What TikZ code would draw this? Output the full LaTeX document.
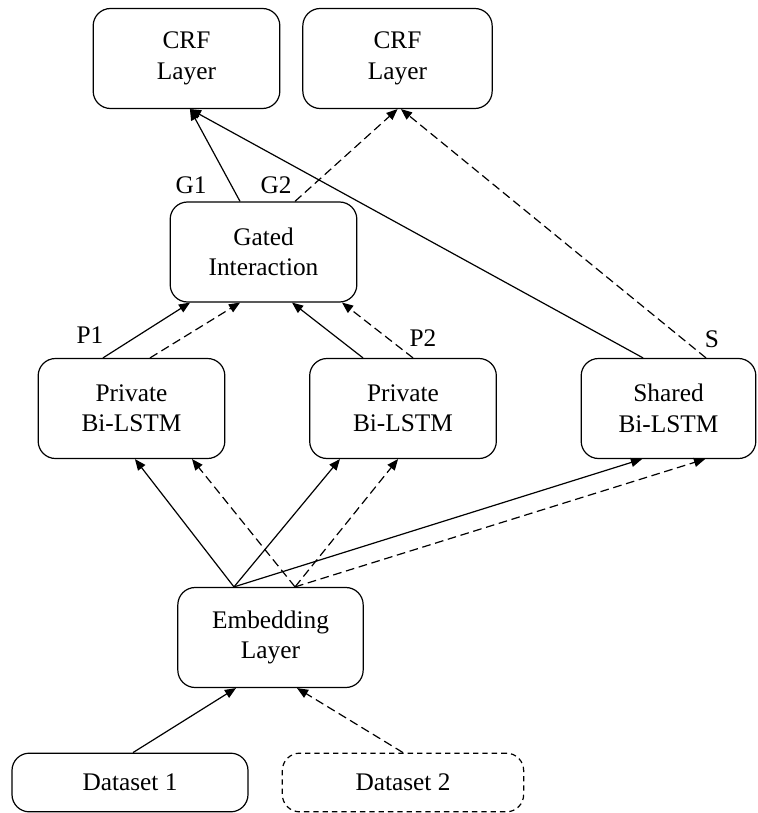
\documentclass[tikz,border=0pt]{standalone}
\usepackage{fontspec}
\setmainfont{Liberation Serif}
\usepackage{tikz}
\usetikzlibrary{arrows}

\tikzset{
  blockbox/.style={draw, line width=0.9pt, rounded corners=13pt, align=center, inner sep=0pt,
    minimum height=75pt, font=\fontsize{19}{22.8}\selectfont},
  databox/.style={blockbox, minimum height=44pt},
  flowa/.style={->, line width=0.9pt},
  flowb/.style={->, line width=0.9pt, dash pattern=on 6.5pt off 3.5pt},
  taglabel/.style={font=\fontsize{19}{22.8}\selectfont, inner sep=0pt}
}

\begin{document}
\begin{tikzpicture}[line cap=butt,line join=round,>=triangle 45,x=0.75pt,y=-0.75pt]
\useasboundingbox (0,0) rectangle (757,813);
% upper layers
\node[blockbox, minimum width=140pt] (crfA) at (186.5,58.5) {CRF\\Layer};
\node[blockbox, minimum width=142pt] (crfB) at (397.5,58.5) {CRF\\Layer};
\node[blockbox, minimum width=140pt] (gate) at (263.5,252) {Gated\\Interaction};
% encoders
\node[blockbox, minimum width=140pt] (privA) at (131.5,408.5) {Private\\Bi-LSTM};
\node[blockbox, minimum width=140pt] (privB) at (403,408.5) {Private\\Bi-LSTM};
\node[blockbox, minimum width=131pt] (shared) at (668.5,408.5) {Shared\\Bi-LSTM};
\node[blockbox, minimum width=139pt] (embed) at (270.5,637.5) {Embedding\\Layer};
% inputs
\node[databox, minimum width=177pt] (dataA) at (130,782.5) {Dataset 1};
\node[databox, minimum width=181pt, dash pattern=on 4pt off 3pt] (dataB) at (403,782.5) {Dataset 2};
% labels
\node[taglabel] (tagGa) at (191,185) {G1};
\node[taglabel] (tagGb) at (276,185) {G2};
\node[taglabel] (tagPa) at (90,335) {P1};
\node[taglabel] (tagPb) at (423,338) {P2};
\node[taglabel] (tagS) at (712,339) {S};
% gate and shared to CRF
\draw[flowa] ([xshift=-17.6pt]gate.north) -- ([xshift=2.6pt]crfA.south);
\draw[flowb] ([xshift=23.6pt]gate.north) -- ([xshift=0pt]crfB.south);
\draw[flowa] ([xshift=-19.1pt]shared.north) -- ([xshift=2.6pt]crfA.south);
\draw[flowb] ([xshift=28.1pt]shared.north) -- ([xshift=2.6pt]crfB.south);
% private to gate
\draw[flowa] ([xshift=-21.4pt]privA.north) -- ([xshift=-55.1pt]gate.south);
\draw[flowb] ([xshift=13.9pt]privA.north) -- ([xshift=-17.6pt]gate.south);
\draw[flowa] ([xshift=-30pt]privB.north) -- ([xshift=21.4pt]gate.south);
\draw[flowb] ([xshift=7.5pt]privB.north) -- ([xshift=58.9pt]gate.south);
% embedding to encoders
\draw[flowa] ([xshift=-27.4pt]embed.north) -- ([xshift=2.6pt]privA.south);
\draw[flowa] ([xshift=-27.4pt]embed.north) -- ([xshift=-47.3pt]privB.south);
\draw[flowa] ([xshift=-27.4pt]embed.north) -- ([xshift=-19.9pt]shared.south);
\draw[flowb] ([xshift=18.4pt]embed.north) -- ([xshift=45.4pt]privA.south);
\draw[flowb] ([xshift=18.4pt]embed.north) -- ([xshift=-3.75pt]privB.south);
\draw[flowb] ([xshift=18.4pt]embed.north) -- ([xshift=27.4pt]shared.south);
% datasets to embedding
\draw[flowa] ([xshift=2.25pt]dataA.north) -- ([xshift=-25.9pt]embed.south);
\draw[flowb] (dataB.north) -- ([xshift=19.9pt]embed.south);
\end{tikzpicture}
\end{document}
